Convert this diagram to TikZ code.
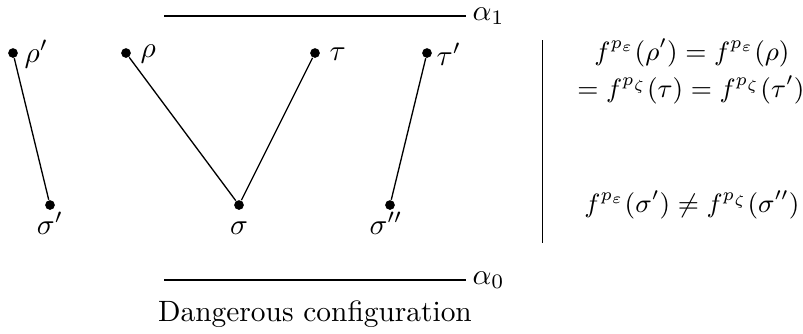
\documentclass[tikz,border=0pt]{standalone}
\usepackage{amsmath}
\begin{document}
\begin{tikzpicture}[x=0.34pt,y=-0.34pt,
  vtx/.style={circle,fill=black,inner sep=0pt,minimum size=3.3pt},
  edge/.style={line width=0.45pt},
  lbl/.style={inner sep=0pt},
  eqn/.style={inner sep=0pt,font=\small}]
\useasboundingbox (0,0) rectangle (803,333);
% vertices
\node[vtx] (rhop) at (13,53) {};
\node[vtx] (sigp) at (50,205) {};
\node[vtx] (rho) at (126,53) {};
\node[vtx] (sig) at (239,205) {};
\node[vtx] (tau) at (315,53) {};
\node[vtx] (taup) at (427,53) {};
\node[vtx] (sigpp) at (390,205) {};
% edges
\draw[edge] (rhop) -- (sigp);
\draw[edge] (rho) -- (sig);
\draw[edge] (sig) -- (tau);
\draw[edge] (taup) -- (sigpp);
% labels
\node[lbl,anchor=west] (lrhop) at (24,54) {$\rho'$};
\node[lbl,anchor=west] (lrho) at (140,54) {$\rho$};
\node[lbl,anchor=west] (ltau) at (329,54) {$\tau$};
\node[lbl,anchor=west] (ltaup) at (436,54) {$\tau'$};
\node[lbl,anchor=base] (lsigp) at (50,234) {$\sigma'$};
\node[lbl,anchor=base] (lsig) at (239,234) {$\sigma$};
\node[lbl,anchor=base] (lsigpp) at (386,234) {$\sigma''$};
% alpha lines
\coordinate (a1s) at (164,16);
\coordinate (a1e) at (466,16);
\coordinate (a0s) at (164,280);
\coordinate (a0e) at (466,280);
\draw[edge] (a1s) -- (a1e) node[anchor=west,inner sep=2pt] (la1) {$\alpha_1$};
\draw[edge] (a0s) -- (a0e) node[anchor=west,inner sep=2pt] (la0) {$\alpha_0$};
% caption
\node (cap) at (315,314) {Dangerous configuration};
% separator
\coordinate (vs) at (542,40);
\coordinate (ve) at (542,243);
\draw[line width=0.3pt] (vs) -- (ve);
% equations
\node[eqn] (eq1) at (692,53) {$f^{p_\varepsilon}(\rho')=f^{p_\varepsilon}(\rho)$};
\node[eqn] (eq2) at (691,90) {$=f^{p_\zeta}(\tau)=f^{p_\zeta}(\tau')$};
\node[eqn] (eq3) at (692,205) {$f^{p_\varepsilon}(\sigma')\neq f^{p_\zeta}(\sigma'')$};
\end{tikzpicture}
\end{document}
